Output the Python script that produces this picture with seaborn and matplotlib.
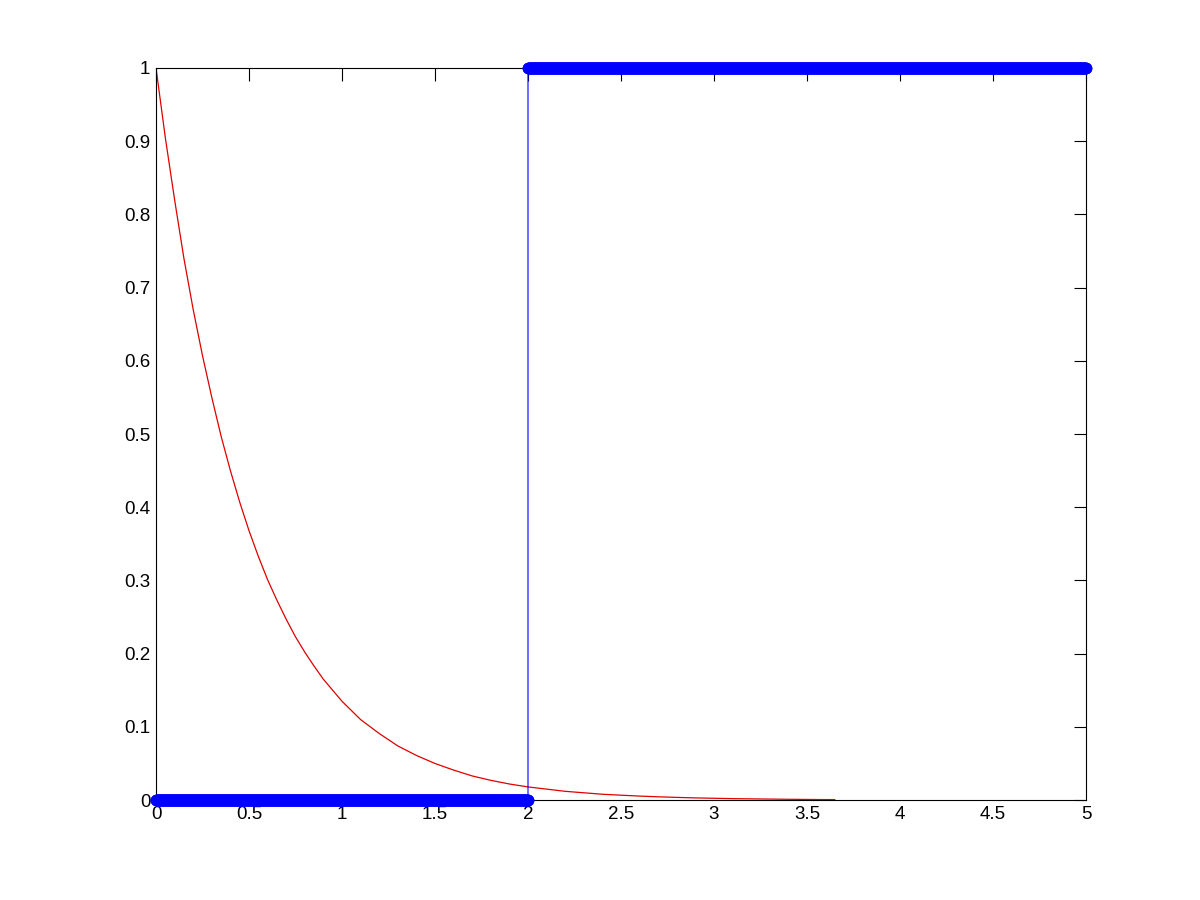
import numpy as np
import pandas as pd
import seaborn as sns
import matplotlib.pyplot as plt
from matplotlib.ticker import FuncFormatter

# step signal: level 0 on [0, 2], level 1 on [2, 5], sampled densely
step_x = [0.0, 2.0, 2.0, 5.0]
step_y = [0.0, 0.0, 1.0, 1.0]
sample_dx = 0.002

# red decaying curve
curve_x = [0.0, 0.05, 0.1, 0.15, 0.2, 0.25, 0.3, 0.35, 0.4, 0.45, 0.5,
           0.55, 0.6, 0.65, 0.7, 0.75, 0.8, 0.85, 0.9, 0.95, 1.0,
           1.1, 1.2, 1.3, 1.4, 1.5, 1.6, 1.7, 1.8, 1.9, 2.0,
           2.1, 2.2, 2.3, 2.4, 2.5, 2.6, 2.7, 2.8, 2.9, 3.0,
           3.1, 3.2, 3.3, 3.4, 3.5, 3.6, 3.65]
curve_y = [1.0, 0.905, 0.82, 0.74, 0.67, 0.607, 0.55, 0.497, 0.45, 0.407, 0.368,
           0.333, 0.301, 0.273, 0.247, 0.223, 0.202, 0.183, 0.165, 0.15, 0.135,
           0.11, 0.091, 0.074, 0.061, 0.05, 0.041, 0.033, 0.027, 0.022, 0.018,
           0.015, 0.012, 0.010, 0.008, 0.0067, 0.0055, 0.0045, 0.0037, 0.003, 0.0025,
           0.002, 0.0017, 0.0014, 0.0011, 0.0009, 0.0007, 0.0007]

# build the sampled step points (markers sit on every sample)
low = np.arange(step_x[0], step_x[1] + sample_dx / 2, sample_dx)
high = np.arange(step_x[2], step_x[3] + sample_dx / 2, sample_dx)
step_df = pd.DataFrame({
    "x": np.concatenate([low, high]),
    "y": np.concatenate([np.full(len(low), step_y[0]), np.full(len(high), step_y[2])]),
})
curve_df = pd.DataFrame({"x": curve_x, "y": curve_y})

sns.set_style("white")
plt.rcParams["font.family"] = ["Liberation Sans", "DejaVu Sans"]

fig = plt.figure(figsize=(12, 9), dpi=100)
ax = fig.add_axes([0.13, 0.111, 0.775, 0.8135])

sns.lineplot(data=step_df, x="x", y="y", ax=ax, estimator=None, sort=False,
             color="#0000ff", linewidth=0.8, marker="o", markersize=7.5,
             markerfacecolor="none", markeredgecolor="#0000ff", markeredgewidth=0.9,
             clip_on=False, zorder=3)
sns.lineplot(data=curve_df, x="x", y="y", ax=ax, estimator=None, sort=False,
             color="#e00000", linewidth=0.9, zorder=2)

ax.set_xlim(0, 5)
ax.set_ylim(0, 1)
ax.set_xticks(np.arange(0, 5.01, 0.5))
ax.set_yticks(np.arange(0, 1.01, 0.1))
ax.xaxis.set_major_formatter(FuncFormatter(lambda v, p: f"{v:g}"))
ax.yaxis.set_major_formatter(FuncFormatter(lambda v, p: f"{round(v, 1):g}"))
ax.set_xlabel("")
ax.set_ylabel("")
ax.tick_params(direction="in", length=9, width=0.8, top=True, right=True,
               labelsize=13.5, colors="black", pad=4)
for s in ax.spines.values():
    s.set_visible(True)
    s.set_color("black")
    s.set_linewidth(0.8)

fig.savefig("out.png", dpi=100, facecolor="white")
